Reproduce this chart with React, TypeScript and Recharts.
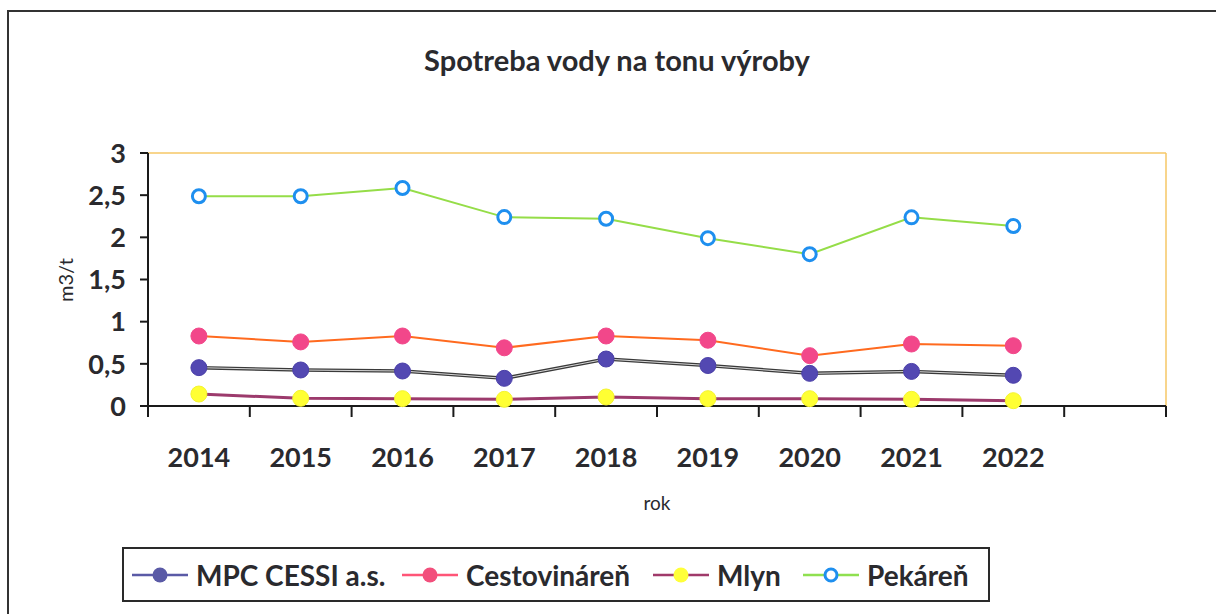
import React from 'react';
import { LineChart, Line, XAxis, YAxis, CartesianGrid } from 'recharts';

const years = ['2014', '2015', '2016', '2017', '2018', '2019', '2020', '2021', '2022'];
const mpc = [0.455, 0.427, 0.415, 0.328, 0.557, 0.48, 0.387, 0.41, 0.364];
const cestovinaren = [0.83, 0.76, 0.83, 0.69, 0.83, 0.78, 0.597, 0.735, 0.715];
const mlyn = [0.142, 0.091, 0.087, 0.079, 0.107, 0.087, 0.087, 0.079, 0.063];
const pekaren = [2.487, 2.487, 2.585, 2.24, 2.22, 1.99, 1.8, 2.237, 2.134];
const yTicks = [0, 0.5, 1, 1.5, 2, 2.5, 3];

const data = [
  ...years.map((y, i) => ({
    year: y,
    mpc: mpc[i],
    cest: cestovinaren[i],
    mlyn: mlyn[i],
    pek: pekaren[i],
  })),
  { year: '' },
];

const FONT = 'Lato, "Open Sans", sans-serif';
const TEXT = '#2a2a2e';

const XTick = (props: any) => {
  const { x, y, payload } = props;
  const off = payload?.offset ?? 0;
  const isLast = payload?.index === data.length - 1;
  return (
    <g>
      <line x1={x - off} x2={x - off} y1={y} y2={y + 11} stroke="#1a1a1a" strokeWidth={2} />
      {isLast && <line x1={x + off} x2={x + off} y1={y} y2={y + 11} stroke="#1a1a1a" strokeWidth={2} />}
      <text x={x} y={y + 61} textAnchor="middle" fill={TEXT} fontFamily={FONT} fontWeight={700} fontSize={27}>
        {payload.value}
      </text>
    </g>
  );
};

const YTick = (props: any) => {
  const { x, y, payload } = props;
  return (
    <text x={x} y={y} dy="0.36em" textAnchor="end" fill={TEXT} fontFamily={FONT} fontWeight={700} fontSize={27}>
      {String(payload.value).replace('.', ',')}
    </text>
  );
};

const blueDot = (props: any) => {
  const { cx, cy, index } = props;
  if (cx == null || cy == null) return <g key={index} />;
  return <circle key={index} cx={cx} cy={cy} r={6.5} fill="#fff" stroke="#1e8fef" strokeWidth={3} />;
};

const LegendSym = ({ line, fill, stroke, hollow }: any) => (
  <svg width={56} height={20} style={{ display: 'block' }}>
    <line x1={0} x2={56} y1={10} y2={10} stroke={line} strokeWidth={2.5} />
    {hollow ? (
      <circle cx={28} cy={10} r={6} fill="#fff" stroke={stroke} strokeWidth={3} />
    ) : (
      <circle cx={28} cy={10} r={7.5} fill={fill} />
    )}
  </svg>
);

const legendItems = [
  { name: 'MPC CESSI a.s.', line: '#5a5aa6', fill: '#5a5aa6' },
  { name: 'Cestovináreň', line: '#ff5577', fill: '#f24f7c' },
  { name: 'Mlyn', line: '#a03a6a', fill: '#ffff3a' },
  { name: 'Pekáreň', line: '#8fe050', stroke: '#1e8fef', hollow: true },
];
const legendLefts = [8, 278, 529, 679];

export default function App() {
  return (
    <div style={{ position: 'absolute', left: 0, top: 0, width: 1216, height: 614, background: '#fff', overflow: 'hidden' }}>
      <div
        style={{
          position: 'absolute',
          left: 7,
          top: 10,
          width: 1220,
          height: 620,
          borderTop: '2px solid #333',
          borderLeft: '2px solid #333',
        }}
      />
      <div
        style={{
          position: 'absolute',
          left: 0,
          width: 1234,
          top: 42,
          textAlign: 'center',
          fontFamily: FONT,
          fontWeight: 700,
          fontSize: 29,
          color: TEXT,
        }}
      >
        Spotreba vody na tonu výroby
      </div>
      <div style={{ position: 'absolute', left: 0, top: 0 }}>
        <LineChart width={1216} height={614} data={data} margin={{ top: 153, right: 50, left: 68, bottom: 168 }}>
          <CartesianGrid
            stroke="#f6c766"
            strokeWidth={1.5}
            horizontalCoordinatesGenerator={({ offset }: any) => [offset.top]}
            verticalCoordinatesGenerator={({ offset }: any) => [offset.left + offset.width]}
          />
          <XAxis
            dataKey="year"
            type="category"
            scale="band"
            height={40}
            axisLine={{ stroke: '#1a1a1a', strokeWidth: 2 }}
            tickLine={false}
            tickSize={0}
            tickMargin={0}
            interval={0}
            tick={<XTick />}
          />
          <YAxis
            type="number"
            domain={[0, 3]}
            ticks={yTicks}
            width={80}
            axisLine={{ stroke: '#1a1a1a', strokeWidth: 2 }}
            tickLine={{ stroke: '#1a1a1a', strokeWidth: 2 }}
            tickSize={8}
            tickMargin={14}
            tick={<YTick />}
          />
          <Line dataKey="pek" stroke="#95dd48" strokeWidth={2} dot={blueDot} isAnimationActive={false} />
          <Line
            dataKey="cest"
            stroke="#ff6a1f"
            strokeWidth={2}
            dot={{ r: 8, fill: '#f2478a', stroke: '#f2478a', strokeWidth: 1 }}
            isAnimationActive={false}
          />
          <Line dataKey="mpc" stroke="#3a3a3a" strokeWidth={3.5} dot={false} isAnimationActive={false} />
          <Line
            dataKey="mpc"
            stroke="#d8d8d8"
            strokeWidth={1}
            dot={{ r: 8, fill: '#5348b2', stroke: '#4a3fa8', strokeWidth: 1 }}
            isAnimationActive={false}
          />
          <Line
            dataKey="mlyn"
            stroke="#9c3a6c"
            strokeWidth={3}
            dot={{ r: 8, fill: '#ffff33', stroke: '#f4f430', strokeWidth: 1 }}
            isAnimationActive={false}
          />
        </LineChart>
      </div>
      <div
        style={{
          position: 'absolute',
          left: 65,
          top: 280,
          transform: 'translate(-50%, -50%) rotate(-90deg)',
          whiteSpace: 'nowrap',
          fontFamily: FONT,
          fontSize: 20,
          color: TEXT,
        }}
      >
        m3/t
      </div>
      <div
        style={{
          position: 'absolute',
          left: 557,
          width: 200,
          top: 491,
          textAlign: 'center',
          fontFamily: FONT,
          fontSize: 19,
          color: TEXT,
        }}
      >
        rok
      </div>
      <div
        style={{
          position: 'absolute',
          left: 122,
          top: 547,
          width: 864,
          height: 51,
          border: '2px solid #2a2a2a',
          fontFamily: FONT,
          fontWeight: 700,
          fontSize: 28,
          color: TEXT,
        }}
      >
        {legendItems.map((it, i) => (
          <div
            key={i}
            style={{
              position: 'absolute',
              left: legendLefts[i],
              top: 0,
              height: 51,
              display: 'flex',
              alignItems: 'center',
              whiteSpace: 'nowrap',
            }}
          >
            <LegendSym {...it} />
            <span style={{ marginLeft: 8 }}>{it.name}</span>
          </div>
        ))}
      </div>
    </div>
  );
}
